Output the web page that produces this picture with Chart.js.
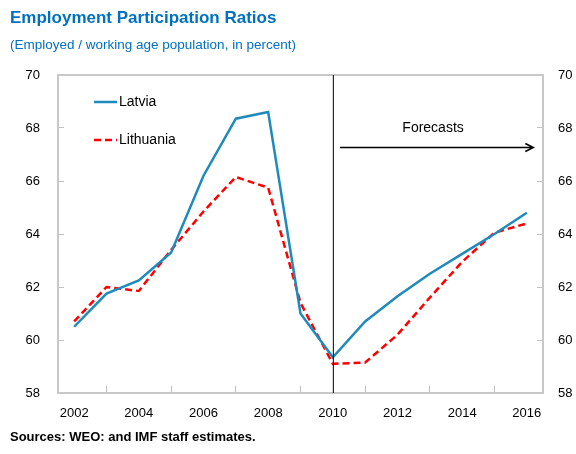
<!DOCTYPE html>
<html>
<head>
<meta charset="utf-8">
<script src="https://cdn.jsdelivr.net/npm/chart.js@4.4.1/dist/chart.umd.min.js"></script>
<style>
  body { margin: 0; background: #fff; }
  #wrap { position: relative; width: 576px; height: 454px; overflow: hidden; font-family: "Liberation Sans", Arial, sans-serif; }
  #wrap canvas { position: absolute; left: 0; top: 0; }
  .txt { position: absolute; left: 10px; white-space: nowrap; }
  #title { top: 8px; font-size: 17px; font-weight: bold; color: #0070c0; }
  #subtitle { top: 37px; font-size: 13.5px; color: #0070c0; }
  #source { top: 429px; font-size: 13px; font-weight: bold; color: #000; }
</style>
</head>
<body>
<div id="wrap">
  <canvas id="myChart" width="576" height="454"></canvas>
  <div class="txt" id="title">Employment Participation Ratios</div>
  <div class="txt" id="subtitle">(Employed / working age population, in percent)</div>
  <div class="txt" id="source">Sources: WEO: and IMF staff estimates.</div>
</div>
<script>
  // data
  const years = ["2002", "2003", "2004", "2005", "2006", "2007", "2008", "2009",
                 "2010", "2011", "2012", "2013", "2014", "2015", "2016"];
  const latvia = [60.5, 61.75, 62.25, 63.3, 66.2, 68.35, 68.6, 61.0,
                  59.35, 60.7, 61.65, 62.5, 63.25, 64.0, 64.8];
  const lithuania = [60.7, 62.0, 61.85, 63.4, 64.85, 66.15, 65.75, 61.4,
                     59.1, 59.15, 60.2, 61.6, 62.95, 64.05, 64.4];
  const forecastStart = "2010";

  // frame round the plot
  const frame = {
    id: "frame",
    beforeDatasetsDraw(chart) {
      const { ctx, chartArea: a } = chart;
      ctx.save();
      ctx.strokeStyle = "#c8c8c8";
      ctx.lineWidth = 2;
      ctx.strokeRect(a.left, a.top, a.right - a.left, a.bottom - a.top);
      ctx.restore();
    }
  };

  // vertical line at 2010 and the forecasts arrow
  const forecast = {
    id: "forecast",
    afterDatasetsDraw(chart) {
      const { ctx, chartArea: a } = chart;
      const x = chart.scales.x, y = chart.scales.y;
      const xv = x.getPixelForValue(years.indexOf(forecastStart));
      ctx.save();
      ctx.strokeStyle = "#000";
      ctx.lineWidth = 1;
      ctx.beginPath();
      ctx.moveTo(xv + 0.5, a.top);
      ctx.lineTo(xv + 0.5, a.bottom);
      ctx.stroke();

      const ya = Math.round(y.getPixelForValue(67.28)) + 0.5;
      const x1 = x.getPixelForValue(8.22), x2 = x.getPixelForValue(14.2);
      ctx.lineWidth = 1.5;
      ctx.beginPath();
      ctx.moveTo(x1, ya);
      ctx.lineTo(x2, ya);
      ctx.moveTo(x2 - 8, ya - 4);
      ctx.lineTo(x2, ya);
      ctx.lineTo(x2 - 8, ya + 4);
      ctx.stroke();

      ctx.fillStyle = "#000";
      ctx.font = "14px 'Liberation Sans', Arial, sans-serif";
      ctx.textAlign = "center";
      ctx.textBaseline = "middle";
      ctx.fillText("Forecasts", x.getPixelForValue(11.1), y.getPixelForValue(68.0));
      ctx.restore();
    }
  };

  // legend inside the plot, top left
  const innerLegend = {
    id: "innerLegend",
    afterDraw(chart) {
      const { ctx, chartArea: a } = chart;
      ctx.save();
      ctx.font = "14px 'Liberation Sans', Arial, sans-serif";
      ctx.textBaseline = "middle";
      ctx.fillStyle = "#000";
      chart.data.datasets.forEach((ds, i) => {
        const ly = a.top + 27 + i * 38;
        const lx = a.left + 36;
        ctx.strokeStyle = ds.borderColor;
        ctx.lineWidth = ds.borderWidth;
        ctx.setLineDash(ds.borderDash || []);
        ctx.beginPath();
        ctx.moveTo(lx, ly);
        ctx.lineTo(lx + 23, ly);
        ctx.stroke();
        ctx.setLineDash([]);
        ctx.fillText(ds.label, lx + 25, ly);
      });
      ctx.restore();
    }
  };

  const tickFont = { family: "'Liberation Sans', Arial, sans-serif", size: 13 };

  const ctx = document.getElementById("myChart").getContext("2d");
  const myChart = new Chart(ctx, {
    type: "line",
    data: {
      labels: years,
      datasets: [
        {
          label: "Latvia",
          data: latvia,
          borderColor: "#1f8bbd",
          borderWidth: 2.5,
          pointRadius: 0,
          tension: 0,
          fill: false
        },
        {
          label: "Lithuania",
          data: lithuania,
          borderColor: "#ff0000",
          borderWidth: 2.5,
          borderDash: [7, 4],
          pointRadius: 0,
          tension: 0,
          fill: false
        }
      ]
    },
    options: {
      responsive: false,
      animation: false,
      devicePixelRatio: 1,
      layout: { padding: { left: 0, right: 0, top: 75, bottom: 31 } },
      plugins: {
        legend: { display: false },
        tooltip: { enabled: false }
      },
      scales: {
        x: {
          offset: true,
          grid: { offset: true, drawOnChartArea: false, tickLength: -7, color: "#c0c0c0" },
          border: { display: false },
          ticks: {
            autoSkip: false,
            maxRotation: 0,
            padding: 20,
            color: "#000",
            font: tickFont,
            callback: function (v, i) { return i % 2 === 0 ? this.getLabelForValue(v) : null; }
          },
          afterFit(s) { s.height = 30; }
        },
        y: {
          position: "left",
          min: 58, max: 70,
          grid: { drawOnChartArea: false, tickLength: -6, color: "#c0c0c0" },
          border: { display: false },
          ticks: { stepSize: 2, padding: 24, color: "#000", font: tickFont },
          afterFit(s) { s.width = 58; }
        },
        y2: {
          position: "right",
          min: 58, max: 70,
          grid: { drawOnChartArea: false, tickLength: -6, color: "#c0c0c0" },
          border: { display: false },
          ticks: { stepSize: 2, padding: 21, color: "#000", font: tickFont },
          afterFit(s) { s.width = 33; }
        }
      }
    },
    plugins: [frame, forecast, innerLegend]
  });
</script>
</body>
</html>
